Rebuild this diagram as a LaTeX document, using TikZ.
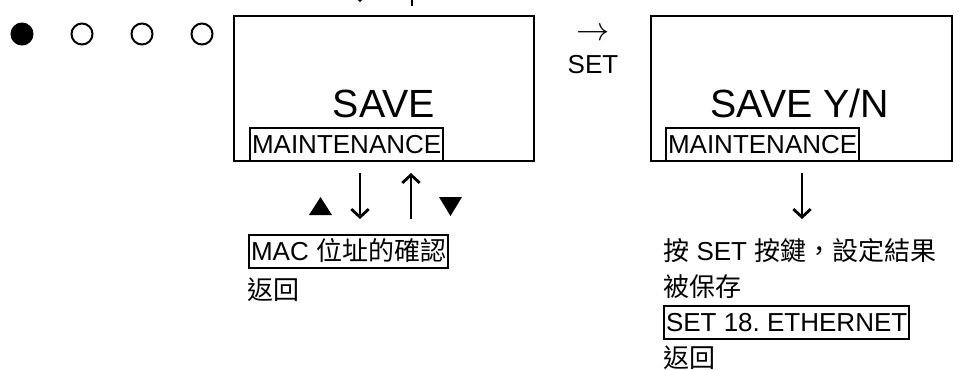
\documentclass[tikz,border=0pt]{standalone}
\usepackage{fontspec}
\setmainfont{Liberation Sans}
\newfontfamily\cjk{Noto Sans CJK TC}
\usetikzlibrary{arrows.meta}
\tikzset{
  screen/.style={draw, line width=1.5pt, minimum width=225.5pt, minimum height=108.75pt, inner sep=0pt},
  bigtxt/.style={inner sep=0pt, anchor=base, font=\fontsize{29.5}{35}\selectfont},
  txt/.style={inner sep=0pt, anchor=base west, font=\fontsize{19.5}{24}\selectfont},
  tag/.style={txt, draw, line width=1.5pt, inner xsep=1.5pt, text height=18.75pt, text depth=6pt},
  led/.style={circle, draw, line width=1.5pt, minimum size=15.75pt, inner sep=0pt},
  keyarrow/.style={line width=2.1pt, -{Straight Barb[length=6pt, width=13pt]}},
}

\begin{document}
\begin{tikzpicture}[x=0.75pt, y=-0.75pt]
        \useasboundingbox (0,0) rectangle (959,369);
        \clip (0,0) rectangle (959,369);
        \node[led, fill=black] (led1) at (22,34) {};
        \node[led] (led2) at (82,34) {};
        \node[led] (led3) at (142,34) {};
        \node[led] (led4) at (202,34) {};
        \node[screen] (scr1) at (384,88.5) {};
        \node[bigtxt] (save) at (384,117) {SAVE};
        \node[tag] (mode1) at (249,153) {MAINTENANCE};
        \node[inner sep=0pt, anchor=base, font=\fontsize{26}{30}\selectfont] (next) at (593,40) {$\rightarrow$};
        \node[txt, anchor=base] (setkey) at (593,73) {SET};
        \node[screen] (scr2) at (801.5,88.5) {};
        \node[bigtxt] (saveyn) at (800,117) {SAVE Y/N};
        \node[tag] (mode2) at (665,153) {MAINTENANCE};
        \coordinate (prevdna) at (360,-44);
        \coordinate (prevdnb) at (360,2);
        \coordinate (prevupa) at (412,6);
        \coordinate (prevupb) at (412,-40);
        \draw[keyarrow] (prevdna) -- (prevdnb);
        \draw[keyarrow] (prevupa) -- (prevupb);
        \coordinate (dn1a) at (360,173);
        \coordinate (dn1b) at (360,219);
        \coordinate (up1a) at (411,219);
        \coordinate (up1b) at (411,173);
        \coordinate (dn2a) at (802,173);
        \coordinate (dn2b) at (802,219);
        \draw[keyarrow] (dn1a) -- (dn1b);
        \draw[keyarrow] (up1a) -- (up1b);
        \draw[keyarrow] (dn2a) -- (dn2b);
        \fill (309,215) -- (332,215) -- (320.5,197) -- cycle;
        \fill (439,197) -- (462,197) -- (450.5,216) -- cycle;
        \node[tag] (mac) at (248,260) {MAC {\cjk 位址的確認}};
        \node[txt] (back1) at (247,299) {\cjk 返回};
        \node[txt] (press) at (663,260) {{\cjk 按} SET {\cjk 按鍵，設定結果}};
        \node[txt] (saved) at (663,296) {\cjk 被保存};
        \node[tag] (eth) at (663,331) {SET 18.\ ETHERNET};
        \node[txt] (back2) at (663,367) {\cjk 返回};
    \end{tikzpicture}
\end{document}
